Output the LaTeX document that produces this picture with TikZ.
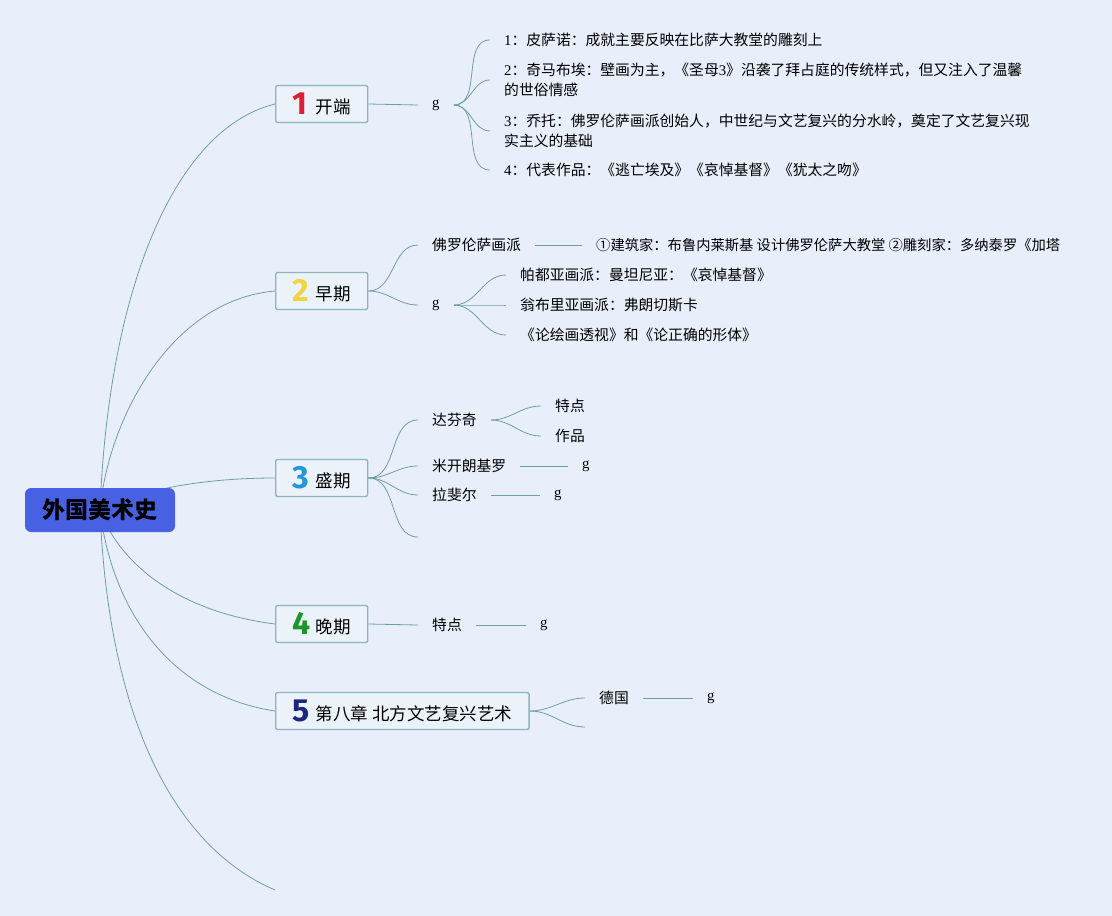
\documentclass[tikz,border=0pt]{standalone}
\usepackage{fontspec}
\setmainfont{Noto Sans CJK SC}
\newfontfamily\sn{Liberation Serif}
\newfontfamily\numf{Fira Sans}
\usepackage{tikz}
\definecolor{bgc}{RGB}{233,238,251}
\definecolor{rootc}{RGB}{72,96,226}
\definecolor{boxc}{RGB}{236,242,250}
\definecolor{boxline}{RGB}{140,182,186}
\definecolor{linkc}{RGB}{110,160,160}
\definecolor{n1c}{RGB}{222,30,52}
\definecolor{n2c}{RGB}{242,212,66}
\definecolor{n3c}{RGB}{36,150,220}
\definecolor{n4c}{RGB}{28,150,40}
\definecolor{n5c}{RGB}{28,40,128}
\pgfdeclarelayer{bg}
\pgfsetlayers{bg,main}
\tikzstyle{root}=[rounded corners=6pt, fill=rootc, minimum width=150pt, minimum height=44pt, font=\fontsize{23}{23}\selectfont\bfseries]
\tikzstyle{br}=[draw=boxline, line width=1.4pt, rounded corners=2pt, fill=boxc, minimum height=37pt, anchor=west, inner xsep=17pt, font=\fontsize{17.5}{18}\selectfont]
\tikzstyle{leaf}=[anchor=west, inner xsep=14pt, align=left, font=\fontsize{14.8}{20}\selectfont]
\tikzstyle{link}=[draw=linkc, line width=0.8pt]
\newcommand{\numb}[2]{\makebox[23pt][l]{\raisebox{-1pt}{\numf\bfseries\fontsize{32}{32}\selectfont\color{#1}#2}}}
\newcommand{\gmark}{{\sn g}}

\begin{document}
\begin{tikzpicture}[x=1pt, y=-1pt]
 \begin{pgfonlayer}{bg}
 \fill[bgc] (0,0) rectangle (1112,916);
 \end{pgfonlayer}
 \useasboundingbox (0,0) rectangle (1112,916);

 % center
 \node[root] (root) at (100,510) {外国美术史};

 % main branches
 \node[br] (b1) at (275,104) {\numb{n1c}{1}开端};
 \node[br] (b2) at (275,291) {\numb{n2c}{2}早期};
 \node[br] (b3) at (275,478) {\numb{n3c}{3}盛期};
 \node[br] (b4) at (275,624) {\numb{n4c}{4}晚期};
 \node[br] (b5) at (275,711) {\numb{n5c}{5}第八章 北方文艺复兴艺术};
 \coordinate (b6) at (275,890);

 % 1
 \node[leaf] (g1) at (418,105) {\gmark};
 \node[leaf] (i11) at (490,40) {{\sn 1}：皮萨诺：成就主要反映在比萨大教堂的雕刻上};
 \node[leaf] (i12) at (490,80) {{\sn 2}：奇马布埃：壁画为主，《圣母{\sn 3}》沿袭了拜占庭的传统样式，但又注入了温馨\\的世俗情感};
 \node[leaf] (i13) at (490,131) {{\sn 3}：乔托：佛罗伦萨画派创始人，中世纪与文艺复兴的分水岭，奠定了文艺复兴现\\实主义的基础};
 \node[leaf] (i14) at (490,170) {{\sn 4}：代表作品：《逃亡埃及》《哀悼基督》《犹太之吻》};
 \draw[link] (b1.east) -- (g1.west);
 \foreach \k in {i11,i12,i13,i14}
   \draw[link] (g1.east) to[out=0,in=180] (\k.west);

 % 2
 \node[leaf] (f2) at (418,245) {佛罗伦萨画派};
 \node[leaf, font=\fontsize{14.3}{20}\selectfont] (f2d) at (582,245) {①建筑家：布鲁内莱斯基 设计佛罗伦萨大教堂 ②雕刻家：多纳泰罗《加塔};
 \node[leaf] (g2) at (418,305) {\gmark};
 \node[leaf] (i21) at (506,275) {帕都亚画派：曼坦尼亚：《哀悼基督》};
 \node[leaf] (i22) at (506,305) {翁布里亚画派：弗朗切斯卡};
 \node[leaf] (i23) at (506,335) {《论绘画透视》和《论正确的形体》};
 \draw[link] (b2.east) to[out=0,in=180] (f2.west);
 \draw[link] (b2.east) to[out=0,in=180] (g2.west);
 \draw[link] (f2.east) -- (f2d.west);
 \foreach \k in {i21,i22,i23}
   \draw[link] (g2.east) to[out=0,in=180] (\k.west);

 % 3
 \node[leaf] (d3) at (418,420) {达芬奇};
 \node[leaf] (d3a) at (541,406) {特点};
 \node[leaf] (d3b) at (541,436) {作品};
 \node[leaf] (m3) at (418,466) {米开朗基罗};
 \node[leaf] (m3g) at (568,466) {\gmark};
 \node[leaf] (r3) at (418,495) {拉斐尔};
 \node[leaf] (r3g) at (540,495) {\gmark};
 \coordinate (e3) at (418,537);
 \foreach \k in {d3,m3,r3}
   \draw[link] (b3.east) to[out=0,in=180] (\k.west);
 \draw[link] (b3.east) to[out=0,in=180] (e3);
 \draw[link] (d3.east) to[out=0,in=180] (d3a.west);
 \draw[link] (d3.east) to[out=0,in=180] (d3b.west);
 \draw[link] (m3.east) -- (m3g.west);
 \draw[link] (r3.east) -- (r3g.west);

 % 4
 \node[leaf] (t4) at (418,625) {特点};
 \node[leaf] (t4g) at (526,625) {\gmark};
 \draw[link] (b4.east) -- (t4.west);
 \draw[link] (t4.east) -- (t4g.west);

 % 5
 \node[leaf] (de5) at (585,698) {德国};
 \node[leaf] (de5g) at (693,698) {\gmark};
 \coordinate (e5) at (585,727);
 \draw[link] (b5.east) to[out=0,in=180] (de5.west);
 \draw[link] (b5.east) to[out=0,in=180] (e5);
 \draw[link] (de5.east) -- (de5g.west);

 % root links under the root node
 \begin{pgfonlayer}{bg}
 \draw[link] (root.center) .. controls (108,300) and (170,130) .. (b1.west);
 \draw[link] (root.center) .. controls (108,420) and (170,300) .. (b2.west);
 \draw[link] (root.center) .. controls (150,485) and (220,478) .. (b3.west);
 \draw[link] (root.center) .. controls (120,565) and (180,612) .. (b4.west);
 \draw[link] (root.center) .. controls (112,610) and (170,695) .. (b5.west);
 \draw[link] (root.center) .. controls (108,710) and (170,845) .. (b6);
 \end{pgfonlayer}
\end{tikzpicture}
\end{document}
